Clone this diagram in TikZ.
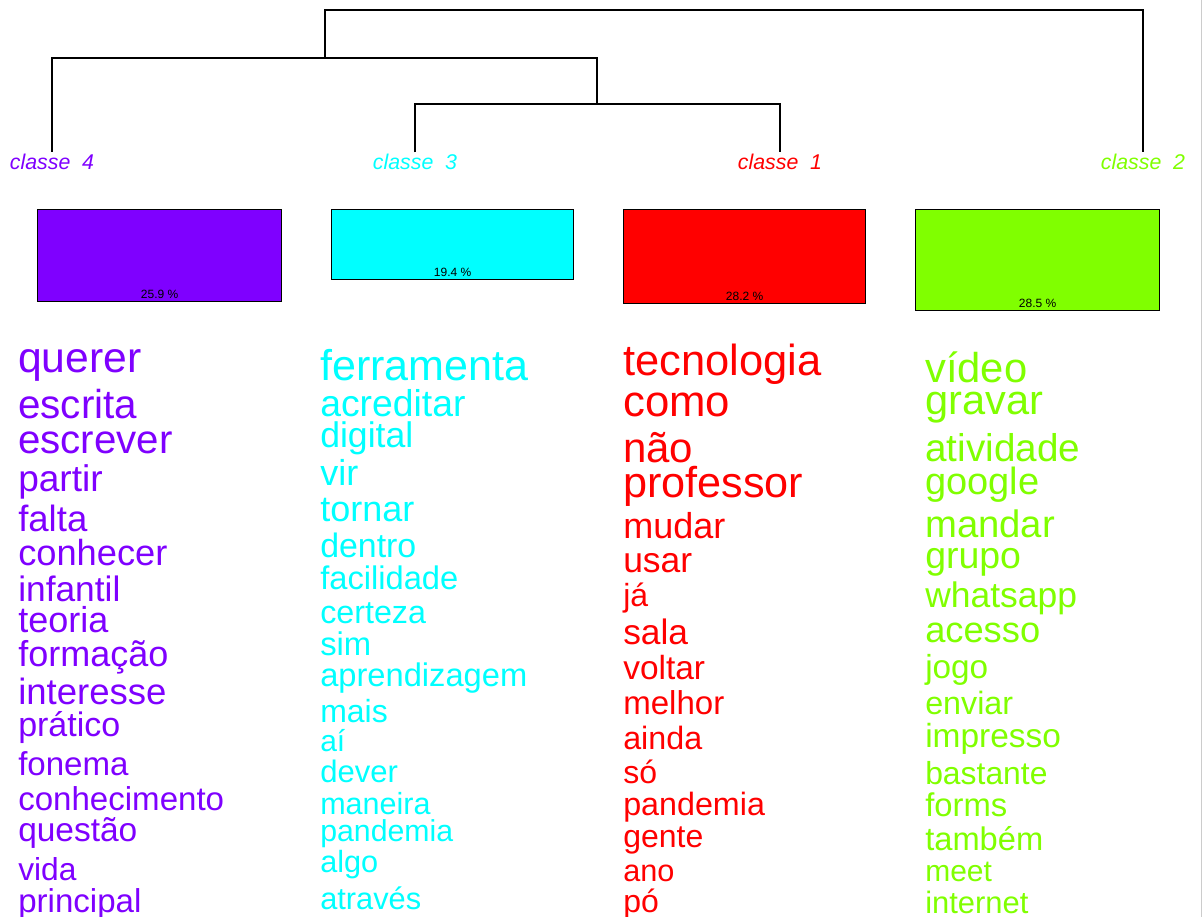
\documentclass[tikz,border=0pt]{standalone}
\usepackage{fontspec}
\setmainfont{Liberation Sans}
\definecolor{cl4}{HTML}{7F00FF}
\definecolor{cl3}{HTML}{00FFFF}
\definecolor{cl1}{HTML}{FF0000}
\definecolor{cl2}{HTML}{80FF00}
\tikzset{
  classlabel/.style={font=\itshape\fontsize{16}{16}\selectfont, inner sep=0pt, anchor=mid},
  classbox/.style={draw=black, line width=1pt, anchor=north west, inner sep=0pt},
  pct/.style={font=\fontsize{9}{9}\selectfont, inner sep=0pt, anchor=base},
  word/.style={anchor=mid west, inner sep=0pt, yshift=-5.25pt},
  tree/.style={line width=1pt},
}

\begin{document}
\begin{tikzpicture}[x=0.75pt,y=-0.75pt]
    \fill[white] (0,0) rectangle (1203,917);
    \useasboundingbox (0,0) rectangle (1203,917);
    \draw[gray!40] (1201,0) -- (1201,917);

    % class labels
    \node[classlabel, text=cl4] (c4) at (52,166) {classe\ \ 4};
    \node[classlabel, text=cl3] (c3) at (415,166) {classe\ \ 3};
    \node[classlabel, text=cl1] (c1) at (780,166) {classe\ \ 1};
    \node[classlabel, text=cl2] (c2) at (1143,166) {classe\ \ 2};

    % dendrogram
    \coordinate (j31) at (597,104);
    \coordinate (j431) at (325,58);
    \coordinate (root) at (734,10);
    \draw[tree] ([yshift=1pt]c3.north) |- (j31) -| ([yshift=1pt]c1.north);
    \draw[tree] (j31) |- (j431) -| ([yshift=1pt]c4.north);
    \draw[tree] (j431) |- (root) -| ([yshift=1pt]c2.north);

    % boxes
    \node[classbox, fill=cl4, minimum width=183pt, minimum height=69pt] (b4) at (37,209) {};
    \node[classbox, fill=cl3, minimum width=181.5pt, minimum height=52.5pt] (b3) at (331,209) {};
    \node[classbox, fill=cl1, minimum width=181.5pt, minimum height=70.5pt] (b1) at (623,209) {};
    \node[classbox, fill=cl2, minimum width=183pt, minimum height=75.75pt] (b2) at (915,209) {};
    \node[pct] (p4) at ([yshift=3pt]b4.south) {25.9 \%};
    \node[pct] (p3) at ([yshift=3pt]b3.south) {19.4 \%};
    \node[pct] (p1) at ([yshift=3pt]b1.south) {28.2 \%};
    \node[pct] (p2) at ([yshift=3pt]b2.south) {28.5 \%};

    % words
    \foreach \w/\y/\s [count=\i] in {querer/362/32, escrita/408/30.3, escrever/443/30.2,
        partir/481/27.8, falta/521/27.4, conhecer/555/27.2, infantil/591/26.5, teoria/622/27,
        formação/656/27, interesse/694/27.4, prático/726/25.5, fonema/765/24.8,
        conhecimento/800/24.8, questão/831/25.1, vida/870/23.8, principal/902/24.8}
        \node[word, text=cl4, font=\fontsize{\s}{\s}\selectfont] (w4-\i) at (18,\y) {\w};
    \foreach \w/\y/\s [count=\i] in {ferramenta/370/32.3, acreditar/406/28, digital/437/26.7,
        vir/475/27, tornar/511/27, dentro/547/25.4, facilidade/579/24.5, certeza/613/24.2,
        sim/645/24.6, aprendizagem/676/24.5, mais/712/24, aí/741/22.5, dever/772/23.3,
        maneira/804/22.9, pandemia/831/22.7, algo/862/23, através/899/23.1}
        \node[word, text=cl3, font=\fontsize{\s}{\s}\selectfont] (w3-\i) at (320,\y) {\w};
    \foreach \w/\y/\s [count=\i] in {tecnologia/365/32.6, como/406/32.8, não/452/31.5,
        professor/487/32.4, mudar/528/27, usar/562/26.6, já/596/24, sala/634/26.5,
        voltar/669/25.1, melhor/704/24.8, ainda/739/24.2, só/773/24, pandemia/805/24.2,
        gente/837/24, ano/871/23, pó/902/24}
        \node[word, text=cl1, font=\fontsize{\s}{\s}\selectfont] (w1-\i) at (623,\y) {\w};
    \foreach \w/\y/\s [count=\i] in {vídeo/372/31.3, gravar/404/31.2, atividade/451/29,
        google/484/28.5, mandar/527/28.7, grupo/558/28.1, whatsapp/597/26.6, acesso/632/27.2,
        jogo/668/25, enviar/704/24.2, impresso/737/25.1, bastante/774/23.9, forms/806/24.6,
        também/840/24.5, meet/871/22.5, internet/903/23.2}
        \node[word, text=cl2, font=\fontsize{\s}{\s}\selectfont] (w2-\i) at (925,\y) {\w};
\end{tikzpicture}
\end{document}
